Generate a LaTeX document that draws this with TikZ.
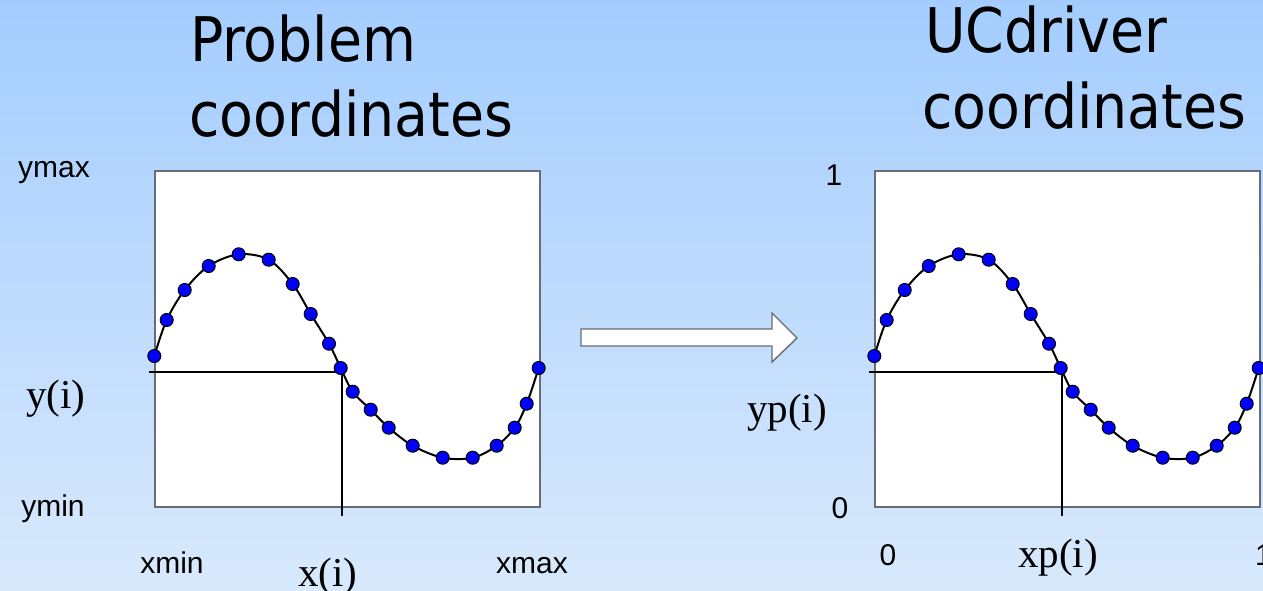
\documentclass[tikz,border=0pt]{standalone}
\usepackage{fontspec}
\setmainfont{Liberation Serif}
\newfontfamily\arialf{Liberation Sans}
\newfontfamily\titlef{DejaVu Sans Condensed}
\definecolor{bgtop}{RGB}{164,205,254}
\definecolor{bgbot}{RGB}{216,233,252}
\definecolor{boxgray}{RGB}{105,108,115}
\definecolor{dotblue}{RGB}{0,0,255}
\tikzset{
  plotbox/.style={draw=boxgray, line width=1.6pt, fill=white, minimum width=385pt, minimum height=336pt, inner sep=0pt, anchor=north west},
  curveline/.style={black, line width=2pt},
  crossline/.style={black, line width=2.4pt},
  dotmark/.style={circle, fill=dotblue, draw=black, line width=1pt, minimum size=13pt, inner sep=0pt},
  ticklbl/.style={font=\arialf\fontsize{30}{36}\selectfont, inner sep=0pt, anchor=base},
  varlbl/.style={font=\fontsize{41}{48}\selectfont, inner sep=0pt, anchor=base},
  titlelbl/.style={font=\titlef\fontsize{61.5}{75}\selectfont, inner sep=0pt, anchor=base west},
  bigarrow/.style={draw=boxgray, line width=1.4pt, fill=white, line join=miter}
}
\newcommand\mypanel[1]{%
  \node[plotbox] (box#1) at (154,170) {};
  \draw[curveline] plot[smooth, tension=0.55] coordinates {(154.3,356) (166.7,320) (184.7,290) (208.7,266) (238.7,254.3) (268.7,259.7) (292.7,284) (310.7,314) (329,343.7) (340.7,368) (352.7,391.7) (370.7,409.7) (388.7,427.7) (412.7,445.7) (442.7,457.7) (472.7,457.7) (496.7,445.7) (514.7,427.7) (526.7,403.7) (538.7,368)};
  \coordinate (hs#1) at (149,372);
  \coordinate (cr#1) at (342,372);
  \coordinate (ve#1) at (342,516);
  \draw[crossline] (hs#1) -- (cr#1) -- (ve#1);
  \foreach \px/\py [count=\k] in {154.3/356,166.7/320,184.7/290,208.7/266,238.7/254.3,268.7/259.7,292.7/284,310.7/314,329/343.7,340.7/368,352.7/391.7,370.7/409.7,388.7/427.7,412.7/445.7,442.7/457.7,472.7/457.7,496.7/445.7,514.7/427.7,526.7/403.7,538.7/368}
    \node[dotmark] (d#1\k) at (\px,\py) {};
}
\begin{document}
\begin{tikzpicture}[x=1pt, y=-1pt]
\useasboundingbox (0,0) rectangle (1263,590);
\shade[top color=bgtop, bottom color=bgbot] (0,0) rectangle (1263,590);
% titles
\node[titlelbl] (t1a) at (190,61) {Problem};
\node[titlelbl] (t1b) at (189,136) {coordinates};
\node[titlelbl] (t2a) at (925,52) {UCdriver};
\node[titlelbl] (t2b) at (922,128) {coordinates};
% panels
\begin{scope}
\mypanel{L}
\end{scope}
\begin{scope}[xshift=720pt]
\mypanel{R}
\end{scope}
% arrow
\draw[bigarrow] (581,329) -- (772,329) -- (772,313) -- (797,338) -- (772,362) -- (772,346) -- (581,346) -- cycle;
% left labels
\node[ticklbl] (ymax) at (54,177) {ymax};
\node[ticklbl] (ymin) at (53,516) {ymin};
\node[varlbl] (yi) at (56,408) {y(i)};
\node[ticklbl] (xmin) at (172,573) {xmin};
\node[ticklbl] (xmax) at (532,573) {xmax};
\node[varlbl] (xi) at (328,586) {x(i)};
% right labels
\node[ticklbl] (one) at (834,185) {1};
\node[ticklbl] (zero) at (840,518) {0};
\node[varlbl] (ypi) at (787,422) {yp(i)};
\node[ticklbl] (zerox) at (888,565) {0};
\node[varlbl] (xpi) at (1058,567) {xp(i)};
\node[ticklbl, anchor=base west] (onex) at (1255,565) {1};
\end{tikzpicture}
\end{document}
